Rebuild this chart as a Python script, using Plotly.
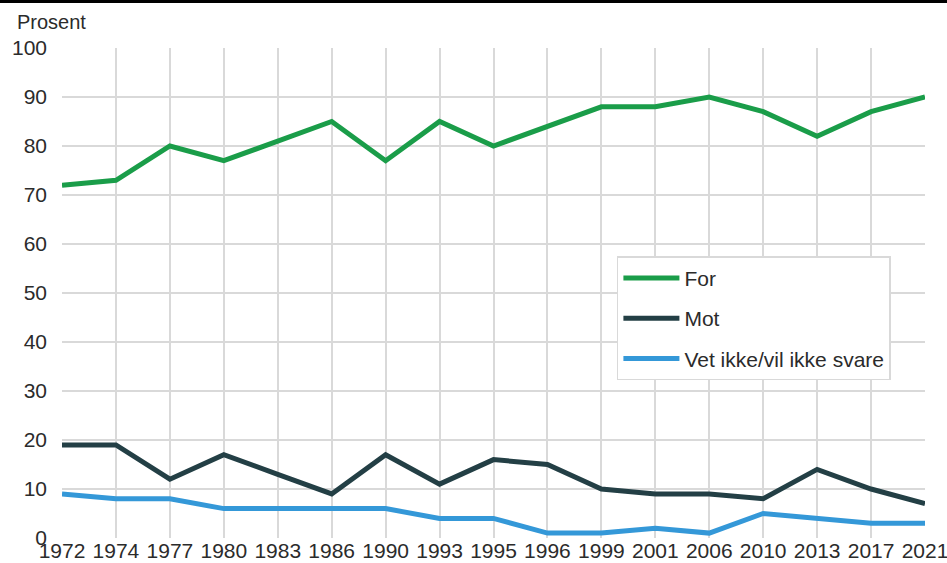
import plotly.graph_objects as go

years = ['1972', '1974', '1977', '1980', '1983', '1986', '1990', '1993', '1995',
         '1996', '1999', '2001', '2006', '2010', '2013', '2017', '2021']
for_vals = [72, 73, 80, 77, 81, 85, 77, 85, 80, 84, 88, 88, 90, 87, 82, 87, 90]
mot_vals = [19, 19, 12, 17, 13, 9, 17, 11, 16, 15, 10, 9, 9, 8, 14, 10, 7]
vet_vals = [9, 8, 8, 6, 6, 6, 6, 4, 4, 1, 1, 2, 1, 5, 4, 3, 3]

series = [('For', for_vals, '#1a9d49'),
          ('Mot', mot_vals, '#233f45'),
          ('Vet ikke/vil ikke svare', vet_vals, '#3498d8')]

fig = go.Figure()
for name, vals, col in series:
    fig.add_trace(go.Scatter(x=years, y=vals, name=name, mode='lines', legendgroup=name,
                             line=dict(color=col, width=5)))

fig.update_layout(
    width=947, height=563,
    margin=dict(l=62, r=22, t=48, b=25, autoexpand=False),
    plot_bgcolor='white', paper_bgcolor='white',
    font=dict(family='Liberation Sans, Arial', size=21, color='#2b2b2b'),
    showlegend=True,
    legend=dict(x=0.643, y=0.575, xanchor='left', yanchor='top',
                bordercolor='#d9d9d9', borderwidth=1.5, bgcolor='white',
                font=dict(size=21, color='#2b2b2b'), traceorder='grouped',
                tracegroupgap=10, itemwidth=56),
    xaxis=dict(type='category', range=[0, 16], showgrid=True, gridcolor='#d9d9d9',
               gridwidth=2, zeroline=False, showline=False, ticks='', automargin=False,
               tickfont=dict(size=21), ticklabelstandoff=-2),
    yaxis=dict(range=[0, 100], dtick=10, showgrid=True, gridcolor='#d9d9d9',
               gridwidth=2, zeroline=False, showline=False, ticks='', automargin=False,
               tickfont=dict(size=21), ticklabelstandoff=14),
    annotations=[dict(text='Prosent', xref='paper', yref='paper', x=-0.0545, y=1.0,
                      xanchor='left', yanchor='bottom', yshift=13, showarrow=False,
                      font=dict(size=20, color='#2b2b2b'))],
    shapes=[dict(type='line', xref='paper', yref='paper', x0=-0.1, x1=1.1,
                 y0=1.095, y1=1.095, line=dict(color='black', width=3))],
)

fig.write_html("out.html", config={'displayModeBar': False},
               post_script="document.body.style.margin='0';")
